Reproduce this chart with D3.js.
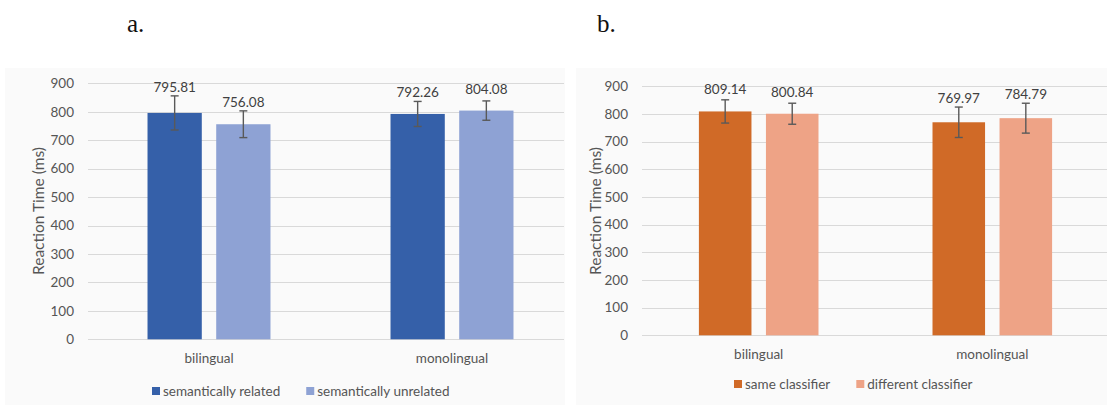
<!DOCTYPE html>
<html>
<head>
<meta charset="utf-8">
<script src="https://cdn.jsdelivr.net/npm/d3@7"></script>
<style>
  html, body { margin: 0; padding: 0; background: #ffffff; }
  svg { display: block; }
  text { font-family: Lato, "Open Sans", sans-serif; fill: #555555; }
</style>
</head>
<body>
<svg id="chart" width="1107" height="405"></svg>
<script>
// Groups and tick values shared by both panels
const groups = ["bilingual", "monolingual"];
const yTicks = [0, 100, 200, 300, 400, 500, 600, 700, 800, 900];

// Panel a: semantic relatedness
const seriesA = ["semantically related", "semantically unrelated"];
const meanRelated = [795.81, 792.26];
const meanUnrelated = [756.08, 804.08];
const errRelated = [60, 44];
const errUnrelated = [47, 34];

// Panel b: classifier congruence
const seriesB = ["same classifier", "different classifier"];
const meanSame = [809.14, 769.97];
const meanDifferent = [800.84, 784.79];
const errSame = [42, 55];
const errDifferent = [38, 54];

const svg = d3.select("#chart");

function drawPanel(opt) {
  const g = svg.append("g");

  // faint panel background
  g.append("rect")
    .attr("x", opt.bg[0]).attr("y", opt.bg[1])
    .attr("width", opt.bg[2]).attr("height", opt.bg[3])
    .attr("fill", "#fafafa");

  // panel letter
  g.append("text")
    .attr("x", opt.letterX).attr("y", 32)
    .style("font-family", "'Liberation Serif', 'DejaVu Serif', serif")
    .style("font-size", "25px")
    .style("fill", "#111")
    .text(opt.letter);

  const y = d3.scaleLinear().domain([0, 900]).range([opt.y0, opt.y900]);
  const x0 = d3.scaleBand().domain(groups).range(opt.xRange)
    .paddingInner(opt.groupPad).paddingOuter(opt.groupPad / 2);
  const x1 = d3.scaleBand().domain(opt.series).range([0, x0.bandwidth()])
    .paddingInner(opt.barPad).paddingOuter(0);

  // gridlines
  g.append("g").selectAll("line").data(yTicks).join("line")
    .attr("x1", opt.gridX[0]).attr("x2", opt.gridX[1])
    .attr("y1", d => Math.round(y(d)) + 0.5).attr("y2", d => Math.round(y(d)) + 0.5)
    .attr("stroke", "#d9d9d9").attr("stroke-width", 1);

  // y tick labels
  const yAxis = g.append("g")
    .attr("transform", `translate(${opt.tickRight},0)`)
    .call(d3.axisLeft(y).tickValues(yTicks).tickSize(0).tickPadding(0));
  yAxis.select(".domain").remove();
  yAxis.selectAll("text")
    .style("font-family", "Lato, 'Open Sans', sans-serif")
    .style("font-size", "13.5px").attr("fill", "#555555");

  // y axis title
  g.append("text")
    .attr("transform", `translate(${opt.titleX},${opt.titleY}) rotate(-90)`)
    .attr("text-anchor", "middle").attr("dominant-baseline", "central")
    .style("font-size", "15.5px")
    .text("Reaction Time (ms)");

  // category labels
  const xAxis = g.append("g")
    .attr("transform", `translate(0,${opt.catY})`)
    .call(d3.axisBottom(x0).tickSize(0).tickPadding(0));
  xAxis.select(".domain").remove();
  xAxis.selectAll("text")
    .attr("dy", "0.35em")
    .style("font-family", "Lato, 'Open Sans', sans-serif")
    .style("font-size", "13.5px").attr("fill", "#555555");

  // bars, error bars and value labels
  const rows = [];
  groups.forEach((grp, i) => {
    opt.series.forEach((s, j) => {
      rows.push({ grp, s, v: opt.means[j][i], e: opt.errs[j][i], c: opt.colors[j] });
    });
  });

  const cells = g.append("g").selectAll("g").data(rows).join("g")
    .attr("transform", d => `translate(${x0(d.grp) + x1(d.s)},0)`);

  cells.append("rect")
    .attr("x", 0).attr("width", x1.bandwidth())
    .attr("y", d => y(d.v)).attr("height", d => y(0) - y(d.v))
    .attr("fill", d => d.c);

  const cx = x1.bandwidth() / 2;
  const capW = 4;
  cells.append("line")
    .attr("x1", cx).attr("x2", cx)
    .attr("y1", d => y(d.v + d.e)).attr("y2", d => y(d.v - d.e))
    .attr("stroke", "#595959").attr("stroke-width", 1.4);
  cells.append("line")
    .attr("x1", cx - capW).attr("x2", cx + capW)
    .attr("y1", d => y(d.v + d.e)).attr("y2", d => y(d.v + d.e))
    .attr("stroke", "#595959").attr("stroke-width", 1.4);
  cells.append("line")
    .attr("x1", cx - capW).attr("x2", cx + capW)
    .attr("y1", d => y(d.v - d.e)).attr("y2", d => y(d.v - d.e))
    .attr("stroke", "#595959").attr("stroke-width", 1.4);

  // value labels sit above the bar, clear of the error bar cap
  cells.append("text")
    .attr("x", cx)
    .attr("y", d => Math.min(y(d.v) - 22, y(d.v + d.e) - 9))
    .attr("text-anchor", "middle").attr("dominant-baseline", "central")
    .style("font-size", "13.5px").style("fill", "#404040")
    .text(d => d3.format(".2f")(d.v));

  // legend
  const leg = g.append("g").attr("transform", `translate(${opt.legX},${opt.legY})`);
  let lx = 0;
  opt.series.forEach((s, j) => {
    leg.append("rect").attr("x", lx).attr("y", -4).attr("width", 8).attr("height", 8)
      .attr("fill", opt.colors[j]);
    const t = leg.append("text").attr("x", lx + 11).attr("y", 0)
      .attr("dominant-baseline", "central")
      .style("font-size", "13.5px").text(s);
    lx += 11 + t.node().getComputedTextLength() + 26;
  });
}

drawPanel({
  letter: "a.", letterX: 127,
  bg: [5, 68, 560, 337],
  series: seriesA,
  means: [meanRelated, meanUnrelated],
  errs: [errRelated, errUnrelated],
  colors: ["#3560a9", "#8ea2d4"],
  y0: 339.3, y900: 83.3,
  xRange: [87.5, 573.5], groupPad: 0.494, barPad: 0.21,
  gridX: [88, 564],
  tickRight: 74, titleX: 38, titleY: 211,
  catY: 358, legX: 152, legY: 391
});

drawPanel({
  letter: "b.", letterX: 597,
  bg: [576, 68, 531, 337],
  series: seriesB,
  means: [meanSame, meanDifferent],
  errs: [errSame, errDifferent],
  colors: ["#d06a27", "#eea386"],
  y0: 335.3, y900: 86.3,
  xRange: [641.9, 1109.1], groupPad: 0.488, barPad: 0.216,
  gridX: [642, 1107],
  tickRight: 628, titleX: 595, titleY: 211,
  catY: 354, legX: 734, legY: 384
});
</script>
</body>
</html>
